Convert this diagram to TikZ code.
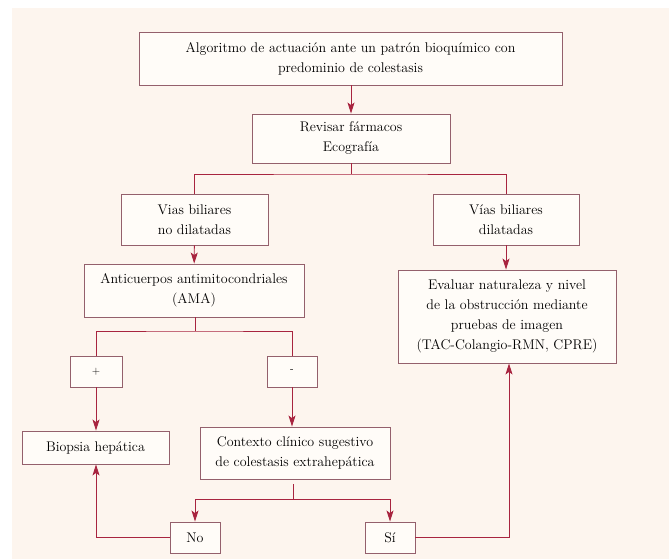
\documentclass[tikz,border=0pt]{standalone}
\usetikzlibrary{arrows.meta}
\definecolor{panel}{HTML}{FDF5EE}
\definecolor{boxfill}{HTML}{FFFCF8}
\definecolor{boxline}{HTML}{94606C}
\definecolor{arr}{HTML}{A8243F}
\begin{document}
\begin{tikzpicture}[x=1pt,y=-1pt,
  bx/.style={draw=boxline,fill=boxfill,line width=0.9pt,inner sep=0pt,align=center,
    font=\fontsize{14}{20}\selectfont},
  sg/.style={bx,font=\sffamily\fontsize{11}{13}\selectfont},
  ln/.style={draw=arr,line width=0.9pt},
  ar/.style={ln,-{Stealth[length=11pt,width=7pt,inset=2.5pt]}}]
\useasboundingbox (0,0) rectangle (669,559);
\fill[white] (0,0) rectangle (669,559);
\fill[panel] (12,8) rectangle (669,559);
\node[bx,minimum width=423pt,minimum height=53pt] (top) at (350.5,58.5)
  {Algoritmo de actuación ante un patrón bioquímico con\\predominio de colestasis};
\node[bx,minimum width=198pt,minimum height=49pt] (rev) at (351,138.5)
  {Revisar fármacos\\Ecografía};
\node[bx,minimum width=147pt,minimum height=51pt] (nodil) at (194.5,219.5)
  {Vias biliares\\no dilatadas};
\node[bx,minimum width=146pt,minimum height=51pt] (dil) at (506,219.5)
  {Vías biliares\\dilatadas};
\node[bx,minimum width=220pt,minimum height=53pt] (ama) at (194,290.5)
  {Anticuerpos antimitocondriales\\(AMA)};
\node[bx,minimum width=218pt,minimum height=93pt] (eval) at (507,316.5)
  {Evaluar naturaleza y nivel\\de la obstrucción mediante\\pruebas de imagen\\(TAC-Colangio-RMN, CPRE)};
\node[sg,minimum width=52pt,minimum height=31pt] (plus) at (96,371.5) {+};
\node[sg,minimum width=50pt,minimum height=31pt] (minus) at (292,371.5) {-};
\node[bx,minimum width=147pt,minimum height=33pt] (biop) at (95.5,447.5) {Biopsia hepática};
\node[bx,minimum width=190pt,minimum height=52pt] (ctx) at (295,453)
  {Contexto clínico sugestivo\\de colestasis extrahepática};
\node[bx,minimum width=50pt,minimum height=31pt] (no) at (195,537.5) {No};
\node[bx,minimum width=50pt,minimum height=31pt] (si) at (390,537.5) {Sí};
\coordinate (j1) at (351,174);
\coordinate (j2) at (195,331);
\coordinate (j3) at (293,499);
\draw[ar] (top.south -| rev.north) -- (rev.north);
\draw[ln] (rev.south) -- (j1);
\draw[ln] (nodil.north) |- (j1) -| (dil.north);
\draw[ar] (nodil) -- (ama);
\draw[ar] (dil.south) -- (eval.north -| dil.south);
\draw[ln] (ama.south -| j2) -- (j2);
\draw[ln] (plus.north) |- (j2) -| (minus.north);
\draw[ar] (plus) -- (biop.north -| plus.south);
\draw[ar] (minus) -- (ctx.north -| minus.south);
\draw[ln,shorten <=5pt] (ctx.south -| j3) -- (j3);
\draw[ar] (j3) -| (no.north);
\draw[ar] (j3) -| (si.north);
\draw[ar] (no.west) -| (biop.south -| plus.south);
\draw[ar] (si.east) -| ([xshift=2pt]eval.south);
\end{tikzpicture}
\end{document}
